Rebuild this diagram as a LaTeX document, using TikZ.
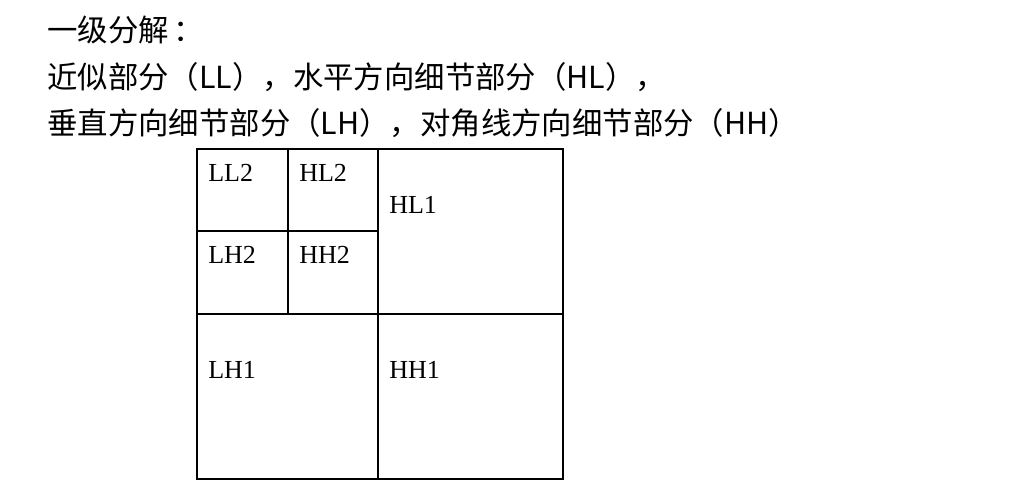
\documentclass[tikz,border=0pt]{standalone}
\usepackage{fontspec}
\setmainfont{Liberation Serif}
\newfontfamily\cjk{Noto Sans CJK SC}
\usetikzlibrary{positioning}

\begin{document}
\begin{tikzpicture}[x=0.75pt,y=0.75pt,yscale=-1,xscale=1]
\path (0,0) rectangle (1010,500); %set diagram left start at 0, and has height of 500

%Shape: Outer Rectangle
\draw [line width=1.5] (197,149) coordinate (tl) rectangle (563,479) coordinate (br) ;
%Straight Lines
\draw [line width=1.5] (378,149) coordinate (mt) -- (378,479) coordinate (mb) ;
%Straight Lines
\draw [line width=1.5] (197,314) coordinate (ml) -- (563,314) coordinate (mr) ;
%Straight Lines
\draw [line width=1.5] (288,149) coordinate (qt) -- (288,314) coordinate (qb) ;
%Straight Lines
\draw [line width=1.5] (197,231) coordinate (ql) -- (378,231) coordinate (qr) ;

% Text Node
\draw (47,41) node [anchor=base west][inner sep=0pt] (title) {\cjk\fontsize{22.8}{27}\selectfont 一级分解\kern0.15em：};
% Text Node
\draw (47,88) node [anchor=base west][inner sep=0pt] (linea) {\cjk\fontsize{22.8}{27}\selectfont 近似部分（LL），水平方向细节部分（HL），};
% Text Node
\draw (47,134) node [anchor=base west][inner sep=0pt] (lineb) {\cjk\fontsize{22.8}{27}\selectfont 垂直方向细节部分（LH），对角线方向细节部分（HH）};

% Text Node
\draw (208,181) node [anchor=base west][inner sep=0pt] (ll2) {\fontsize{19.5}{23}\selectfont LL2};
% Text Node
\draw (299,181) node [anchor=base west][inner sep=0pt] (hl2) {\fontsize{19.5}{23}\selectfont HL2};
% Text Node
\draw (208,263) node [anchor=base west][inner sep=0pt] (lh2) {\fontsize{19.5}{23}\selectfont LH2};
% Text Node
\draw (299,263) node [anchor=base west][inner sep=0pt] (hh2) {\fontsize{19.5}{23}\selectfont HH2};
% Text Node
\draw (389,213) node [anchor=base west][inner sep=0pt] (hl1) {\fontsize{19.5}{23}\selectfont HL1};
% Text Node
\draw (208,378) node [anchor=base west][inner sep=0pt] (lh1) {\fontsize{19.5}{23}\selectfont LH1};
% Text Node
\draw (389,378) node [anchor=base west][inner sep=0pt] (hh1) {\fontsize{19.5}{23}\selectfont HH1};

\end{tikzpicture}
\end{document}
